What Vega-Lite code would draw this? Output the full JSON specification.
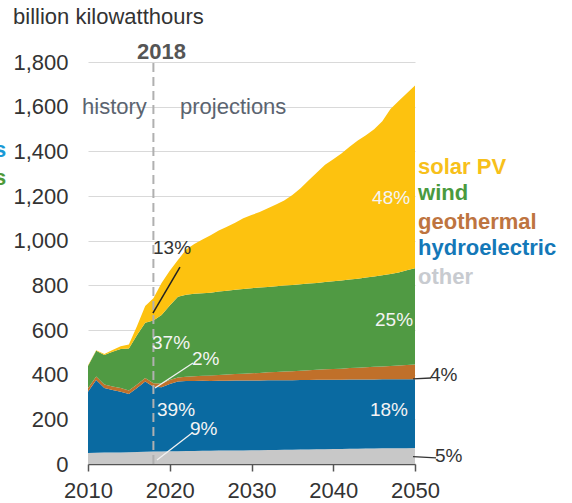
{
  "$schema": "https://vega.github.io/schema/vega-lite/v6.json",
  "width": 327,
  "height": 402,
  "autosize": {"type": "none"},
  "padding": {"left": 88, "top": 62, "right": 157, "bottom": 39},
  "config": {"view": {"stroke": null}, "font": "Liberation Sans", "text": {"font": "Liberation Sans"}},
  "data": {"values": [{}]},
  "datasets": {
    "gen": [
      {"year": 2010, "other": 49, "hydroelectric": 275, "geothermal": 15, "wind": 100, "solar PV": 2},
      {"year": 2011, "other": 50, "hydroelectric": 326, "geothermal": 16, "wind": 115, "solar PV": 2},
      {"year": 2012, "other": 51, "hydroelectric": 289, "geothermal": 16, "wind": 132, "solar PV": 4},
      {"year": 2013, "other": 52, "hydroelectric": 279, "geothermal": 16, "wind": 156, "solar PV": 8},
      {"year": 2014, "other": 52, "hydroelectric": 272, "geothermal": 16, "wind": 175, "solar PV": 12},
      {"year": 2015, "other": 53, "hydroelectric": 260, "geothermal": 16, "wind": 188, "solar PV": 18},
      {"year": 2016, "other": 54, "hydroelectric": 286, "geothermal": 16, "wind": 222, "solar PV": 40},
      {"year": 2017, "other": 55, "hydroelectric": 314, "geothermal": 16, "wind": 247, "solar PV": 75},
      {"year": 2018, "other": 56, "hydroelectric": 290, "geothermal": 16, "wind": 280, "solar PV": 100},
      {"year": 2019, "other": 56, "hydroelectric": 288, "geothermal": 17, "wind": 306, "solar PV": 143},
      {"year": 2020, "other": 57, "hydroelectric": 301, "geothermal": 18, "wind": 334, "solar PV": 155},
      {"year": 2021, "other": 57, "hydroelectric": 312, "geothermal": 18, "wind": 362, "solar PV": 164},
      {"year": 2022, "other": 58, "hydroelectric": 314, "geothermal": 19, "wind": 367, "solar PV": 202},
      {"year": 2023, "other": 58, "hydroelectric": 314, "geothermal": 21, "wind": 369, "solar PV": 223},
      {"year": 2024, "other": 59, "hydroelectric": 314, "geothermal": 22, "wind": 370, "solar PV": 240},
      {"year": 2025, "other": 59, "hydroelectric": 313, "geothermal": 24, "wind": 371, "solar PV": 257},
      {"year": 2026, "other": 60, "hydroelectric": 313, "geothermal": 26, "wind": 373, "solar PV": 273},
      {"year": 2027, "other": 60, "hydroelectric": 313, "geothermal": 28, "wind": 375, "solar PV": 286},
      {"year": 2028, "other": 61, "hydroelectric": 313, "geothermal": 29, "wind": 377, "solar PV": 300},
      {"year": 2029, "other": 61, "hydroelectric": 313, "geothermal": 30, "wind": 380, "solar PV": 316},
      {"year": 2030, "other": 62, "hydroelectric": 312, "geothermal": 32, "wind": 381, "solar PV": 328},
      {"year": 2031, "other": 62, "hydroelectric": 312, "geothermal": 34, "wind": 382, "solar PV": 338},
      {"year": 2032, "other": 63, "hydroelectric": 312, "geothermal": 36, "wind": 382, "solar PV": 352},
      {"year": 2033, "other": 63, "hydroelectric": 312, "geothermal": 37, "wind": 384, "solar PV": 366},
      {"year": 2034, "other": 64, "hydroelectric": 311, "geothermal": 39, "wind": 385, "solar PV": 381},
      {"year": 2035, "other": 64, "hydroelectric": 311, "geothermal": 40, "wind": 386, "solar PV": 403},
      {"year": 2036, "other": 65, "hydroelectric": 311, "geothermal": 42, "wind": 387, "solar PV": 430},
      {"year": 2037, "other": 65, "hydroelectric": 311, "geothermal": 44, "wind": 388, "solar PV": 462},
      {"year": 2038, "other": 66, "hydroelectric": 311, "geothermal": 45, "wind": 389, "solar PV": 494},
      {"year": 2039, "other": 66, "hydroelectric": 311, "geothermal": 47, "wind": 391, "solar PV": 525},
      {"year": 2040, "other": 67, "hydroelectric": 310, "geothermal": 48, "wind": 393, "solar PV": 547},
      {"year": 2041, "other": 67, "hydroelectric": 310, "geothermal": 50, "wind": 395, "solar PV": 568},
      {"year": 2042, "other": 68, "hydroelectric": 310, "geothermal": 52, "wind": 396, "solar PV": 594},
      {"year": 2043, "other": 68, "hydroelectric": 310, "geothermal": 53, "wind": 399, "solar PV": 618},
      {"year": 2044, "other": 69, "hydroelectric": 309, "geothermal": 55, "wind": 402, "solar PV": 637},
      {"year": 2045, "other": 69, "hydroelectric": 309, "geothermal": 57, "wind": 404, "solar PV": 660},
      {"year": 2046, "other": 70, "hydroelectric": 309, "geothermal": 58, "wind": 408, "solar PV": 690},
      {"year": 2047, "other": 70, "hydroelectric": 309, "geothermal": 60, "wind": 412, "solar PV": 739},
      {"year": 2048, "other": 71, "hydroelectric": 308, "geothermal": 62, "wind": 417, "solar PV": 767},
      {"year": 2049, "other": 71, "hydroelectric": 309, "geothermal": 63, "wind": 424, "solar PV": 793},
      {"year": 2050, "other": 72, "hydroelectric": 308, "geothermal": 65, "wind": 432, "solar PV": 818}
    ],
    "rank": [
      {"source": "other", "rank": 1},
      {"source": "hydroelectric", "rank": 2},
      {"source": "geothermal", "rank": 3},
      {"source": "wind", "rank": 4},
      {"source": "solar PV", "rank": 5}
    ]
  },
  "layer": [
    {
      "data": {"name": "gen"},
      "transform": [
        {"fold": ["other", "hydroelectric", "geothermal", "wind", "solar PV"], "as": ["source", "value"]},
        {"lookup": "source", "from": {"data": {"name": "rank"}, "key": "source", "fields": ["rank"]}}
      ],
      "mark": {"type": "area"},
      "encoding": {
        "x": {
          "field": "year", "type": "quantitative",
          "scale": {"domain": [2010, 2050], "nice": false, "zero": false},
          "axis": {
            "title": null, "values": [2010, 2020, 2030, 2040, 2050], "format": "d", "grid": false, "labelFlush": false,
            "domainColor": "#555555", "domainWidth": 1.5, "tickColor": "#555555", "tickWidth": 1.5, "tickSize": 7,
            "labelFontSize": 22, "labelColor": "#333333", "labelPadding": 9, "labelFont": "Liberation Sans"
          }
        },
        "y": {
          "field": "value", "type": "quantitative", "stack": "zero",
          "scale": {"domain": [0, 1800], "nice": false},
          "axis": {
            "title": null, "values": [0, 200, 400, 600, 800, 1000, 1200, 1400, 1600, 1800], "format": ",d",
            "domain": false, "ticks": false, "grid": true, "gridColor": "#d9d9d9", "gridWidth": 1, "labelFlush": false,
            "labelFontSize": 22, "labelColor": "#333333", "labelPadding": 20, "labelFont": "Liberation Sans"
          }
        },
        "color": {
          "field": "source", "type": "nominal",
          "scale": {"domain": ["other", "hydroelectric", "geothermal", "wind", "solar PV"], "range": ["#c8c8c8", "#0a6aa1", "#c0702a", "#509a43", "#fdc20f"]},
          "legend": null
        },
        "order": {"field": "rank", "type": "quantitative"}
      }
    },
    {"mark": {"type": "rule", "color": "#b0b0b0", "strokeWidth": 2, "strokeDash": [9, 5]}, "encoding": {"x": {"datum": 2018}, "y": {"datum": 0}, "y2": {"datum": 1800}}},
    {"mark": {"type": "rule", "color": "#222222", "strokeWidth": 1.5}, "encoding": {"x": {"datum": 2017.94}, "y": {"datum": 676}, "x2": {"datum": 2021.25}, "y2": {"datum": 882}}},
    {"mark": {"type": "rule", "color": "#f2f2f2", "strokeWidth": 1.3}, "encoding": {"x": {"datum": 2018.2}, "y": {"datum": 340}, "x2": {"datum": 2022.84}, "y2": {"datum": 452}}},
    {"mark": {"type": "rule", "color": "#f2f2f2", "strokeWidth": 1.3}, "encoding": {"x": {"datum": 2018.44}, "y": {"datum": 18}, "x2": {"datum": 2022.72}, "y2": {"datum": 139}}},
    {"mark": {"type": "rule", "color": "#333333", "strokeWidth": 1.3}, "encoding": {"x": {"datum": 2049.76}, "y": {"datum": 381}, "x2": {"datum": 2051.96}, "y2": {"datum": 385}}},
    {"mark": {"type": "rule", "color": "#333333", "strokeWidth": 1.3}, "encoding": {"x": {"datum": 2049.76}, "y": {"datum": 33}, "x2": {"datum": 2052.57}, "y2": {"datum": 27}}},
    {"mark": {"type": "text", "text": "billion kilowatthours", "align": "left", "baseline": "middle", "fontSize": 22, "color": "#333333"}, "encoding": {"x": {"datum": 2000.83}, "y": {"datum": 2002}}},
    {"mark": {"type": "text", "text": "2018", "align": "center", "baseline": "middle", "fontSize": 22, "fontWeight": "bold", "color": "#555555"}, "encoding": {"x": {"datum": 2019.0}, "y": {"datum": 1845}}},
    {"mark": {"type": "text", "text": "history", "align": "right", "baseline": "middle", "fontSize": 22, "color": "#5b6470"}, "encoding": {"x": {"datum": 2017.2}, "y": {"datum": 1599}}},
    {"mark": {"type": "text", "text": "projections", "align": "left", "baseline": "middle", "fontSize": 22, "color": "#5b6470"}, "encoding": {"x": {"datum": 2021.25}, "y": {"datum": 1599}}},
    {"mark": {"type": "text", "text": "s", "align": "right", "baseline": "middle", "fontSize": 22, "fontWeight": "bold", "color": "#1a9ad6"}, "encoding": {"x": {"datum": 2000}, "y": {"datum": 1406}}},
    {"mark": {"type": "text", "text": "s", "align": "right", "baseline": "middle", "fontSize": 22, "fontWeight": "bold", "color": "#4e9a3a"}, "encoding": {"x": {"datum": 2000}, "y": {"datum": 1280}}},
    {"mark": {"type": "text", "text": "solar PV", "align": "left", "baseline": "middle", "fontSize": 22, "fontWeight": "bold", "color": "#f7c01a"}, "encoding": {"x": {"datum": 2050.37}, "y": {"datum": 1331}}},
    {"mark": {"type": "text", "text": "wind", "align": "left", "baseline": "middle", "fontSize": 22, "fontWeight": "bold", "color": "#4a9a3e"}, "encoding": {"x": {"datum": 2050.37}, "y": {"datum": 1214}}},
    {"mark": {"type": "text", "text": "geothermal", "align": "left", "baseline": "middle", "fontSize": 22, "fontWeight": "bold", "color": "#be7440"}, "encoding": {"x": {"datum": 2050.37}, "y": {"datum": 1084}}},
    {"mark": {"type": "text", "text": "hydroelectric", "align": "left", "baseline": "middle", "fontSize": 22, "fontWeight": "bold", "color": "#1478b8"}, "encoding": {"x": {"datum": 2050.37}, "y": {"datum": 967}}},
    {"mark": {"type": "text", "text": "other", "align": "left", "baseline": "middle", "fontSize": 22, "fontWeight": "bold", "color": "#c8cbd0"}, "encoding": {"x": {"datum": 2050.37}, "y": {"datum": 837}}},
    {"mark": {"type": "text", "text": "48%", "align": "right", "baseline": "middle", "fontSize": 19, "color": "#f4f4f4"}, "encoding": {"x": {"datum": 2049.4}, "y": {"datum": 1191}}},
    {"mark": {"type": "text", "text": "25%", "align": "right", "baseline": "middle", "fontSize": 19, "color": "#f4f4f4"}, "encoding": {"x": {"datum": 2049.76}, "y": {"datum": 645}}},
    {"mark": {"type": "text", "text": "18%", "align": "right", "baseline": "middle", "fontSize": 19, "color": "#f4f4f4"}, "encoding": {"x": {"datum": 2049.14}, "y": {"datum": 242}}},
    {"mark": {"type": "text", "text": "13%", "align": "left", "baseline": "middle", "fontSize": 19, "color": "#333333"}, "encoding": {"x": {"datum": 2017.95}, "y": {"datum": 967}}},
    {"mark": {"type": "text", "text": "37%", "align": "left", "baseline": "middle", "fontSize": 19, "color": "#f4f4f4"}, "encoding": {"x": {"datum": 2017.83}, "y": {"datum": 542}}},
    {"mark": {"type": "text", "text": "2%", "align": "left", "baseline": "middle", "fontSize": 19, "color": "#f4f4f4"}, "encoding": {"x": {"datum": 2022.72}, "y": {"datum": 470}}},
    {"mark": {"type": "text", "text": "39%", "align": "left", "baseline": "middle", "fontSize": 19, "color": "#f4f4f4"}, "encoding": {"x": {"datum": 2018.44}, "y": {"datum": 242}}},
    {"mark": {"type": "text", "text": "9%", "align": "left", "baseline": "middle", "fontSize": 19, "color": "#f4f4f4"}, "encoding": {"x": {"datum": 2022.48}, "y": {"datum": 157}}},
    {"mark": {"type": "text", "text": "4%", "align": "left", "baseline": "middle", "fontSize": 19, "color": "#333333"}, "encoding": {"x": {"datum": 2051.83}, "y": {"datum": 399}}},
    {"mark": {"type": "text", "text": "5%", "align": "left", "baseline": "middle", "fontSize": 19, "color": "#333333"}, "encoding": {"x": {"datum": 2052.45}, "y": {"datum": 36}}}
  ]
}
